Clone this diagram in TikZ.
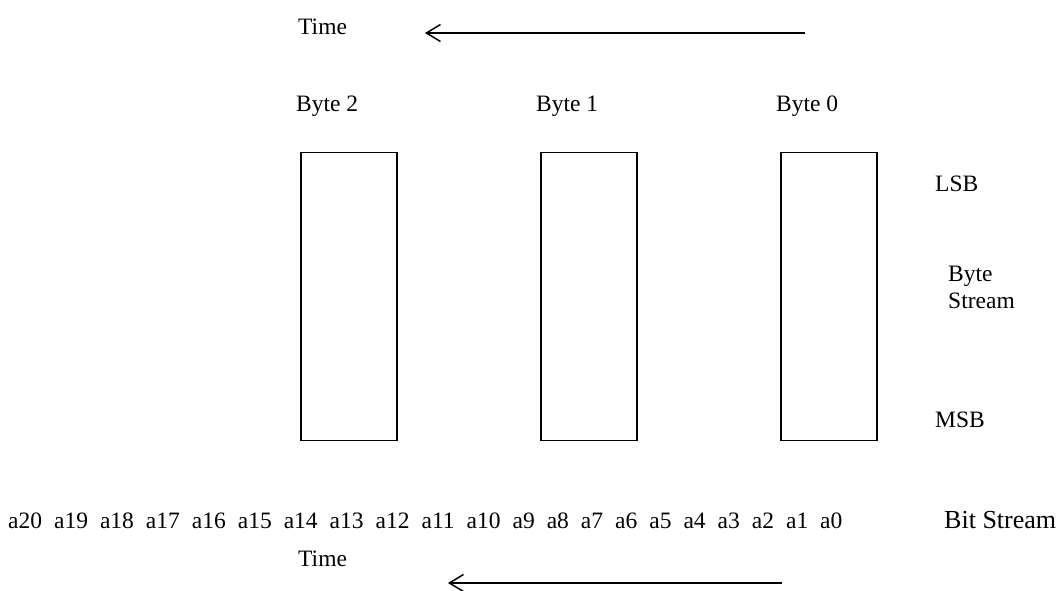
\documentclass[tikz,border=0pt]{standalone}
\usepackage{fontspec}
\setmainfont{Liberation Serif}
\usetikzlibrary{arrows.meta}
\newcommand\bsp{\hspace{12pt}}
\begin{document}
\begin{tikzpicture}[x=1pt,y=-1pt,
  lbl/.style={anchor=base west,inner sep=0pt,font=\fontsize{23.5}{28}\selectfont},
  biglbl/.style={lbl,font=\fontsize{26}{30}\selectfont},
  bytebox/.style={draw,line width=1.2pt,anchor=north west,minimum width=96pt,minimum height=288.5pt,inner sep=0pt,outer sep=0pt},
  timearrow/.style={line width=1.5pt,-{Straight Barb[length=14pt,width=17pt,line width=1.5pt]}}]
\useasboundingbox (0,0) rectangle (1061,591);
% top time
\node[lbl] (ttime) at (298,35) {Time};
\coordinate (ta1) at (805,33);
\coordinate (ta2) at (425,33);
\draw[timearrow] (ta1) -- (ta2);
% byte labels
\node[lbl] (lb2) at (296,112) {Byte 2};
\node[lbl] (lb1) at (536,112) {Byte 1};
\node[lbl] (lb0) at (776,112) {Byte 0};
% boxes
\node[bytebox] (b2) at (301,152.3) {};
\node[bytebox] (b1) at (541,152.3) {};
\node[bytebox] (b0) at (781,152.3) {};
% right labels
\node[lbl] (lsb) at (935,192) {LSB};
\node[lbl] (bs1) at (948,281) {Byte};
\node[lbl] (bs2) at (948,308) {Stream};
\node[lbl] (msb) at (935,427) {MSB};
% bit stream
\node[lbl] (bits) at (8,528) {a20\bsp a19\bsp a18\bsp a17\bsp a16\bsp a15\bsp a14\bsp a13\bsp a12\bsp a11\bsp a10\bsp a9\bsp a8\bsp a7\bsp a6\bsp a5\bsp a4\bsp a3\bsp a2\bsp a1\bsp a0};
\node[biglbl] (bitlbl) at (944,528) {Bit Stream};
% bottom time
\node[lbl] (btime) at (298,566) {Time};
\coordinate (ba1) at (782,583);
\coordinate (ba2) at (448,583);
\draw[timearrow] (ba1) -- (ba2);
\end{tikzpicture}
\end{document}
